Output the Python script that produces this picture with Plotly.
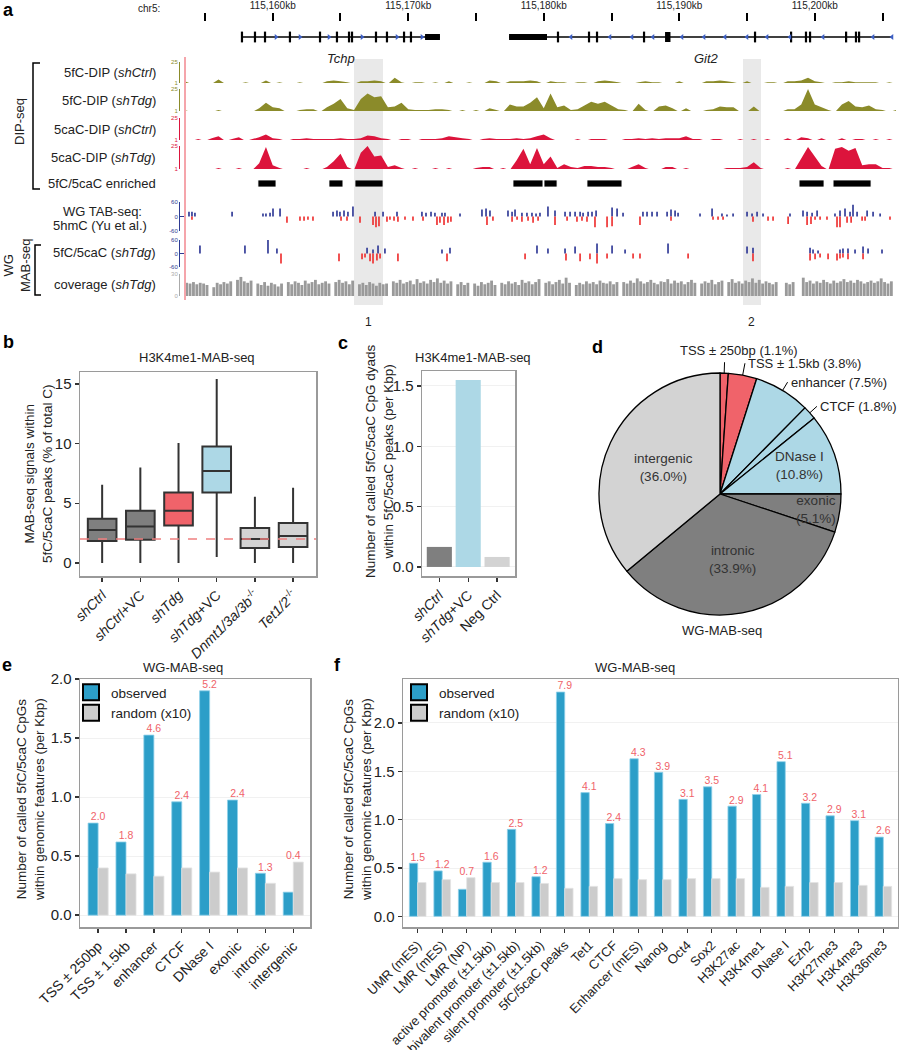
import numpy as np
import plotly.graph_objects as go

W, H = 899, 1050
def X(px): return px / W
def Y(py): return 1 - py / H
def xd(a, b): return [X(a), X(b)]
def yd(top, bottom): return [Y(bottom), Y(top)]

FONT = "Liberation Sans, Arial, sans-serif"
TXT = "#222222"

# ======================= DATA : panel a =======================
chr_ticks = [115155, 115160, 115165, 115170, 115175, 115180, 115185, 115190, 115195, 115200, 115205]
chr_ticktext = ["", "115,160kb", "", "115,170kb", "", "115,180kb", "", "115,190kb", "", "115,200kb", ""]
genome_range = [115153.6, 115206.0]

tchp_span = [115157.73, 115172.34]
tchp_utr = [115171.24, 115172.34]
tchp_exons = [115157.73, 115158.69, 115159.43, 115161.27, 115163.49, 115164.74, 115165.63,
              115165.85, 115167.62, 115168.43, 115169.69, 115170.20]
tchp_arrows = [115160.24, 115162.01, 115164.15, 115166.59, 115169.17, 115171.01]
git2_span = [115177.44, 115205.77]
git2_utr = [115177.44, 115180.24]
git2_block = [115188.95, 115189.35]
git2_exons = [115181.05, 115183.34, 115183.93, 115187.40, 115195.59, 115198.25, 115199.35,
              115199.65, 115202.31, 115203.04, 115203.27]
git2_arrows = [115182.01, 115184.89, 115186.51, 115188.06, 115190.20, 115191.83, 115193.38,
               115195.00, 115196.48, 115198.17, 115200.61, 115204.30, 115205.70]

highlight_start = [115166.0, 115194.7]
highlight_end = [115168.14, 115196.03]
highlight_names = ["1", "2"]

dip_start, dip_step = 115153.5, 0.5
dip_5fc_ctrl = [3,0,0,0,0,5,0,0,0,2, 0,0,4,0,2,0,0,2,0,0, 0,3,4,3,2,0,3,3,4,3,
                0,7,2,0,2,2,0,2,0,3, 0,0,2,0,0,4,3,0,3,3, 3,4,3,0,3,2,2,0,2,2,
                0,3,4,3,2,0,0,2,3,2, 2,0,0,3,0,0,0,3,3,4, 3,2,0,3,0,0,2,2,0,3,
                3,4,7,3,2,0,2,2,3,2, 2,2,2,0,2,0]
dip_5fc_tdg = [2,0,0,0,0,2,0,0,0,0, 0,4,10,5,4,0,0,2,3,3, 0,5,9,14,4,2,14,20,16,17,
               5,6,10,3,2,2,2,3,3,2, 0,2,0,2,0,4,2,0,8,6, 6,10,16,4,20,5,7,2,3,7,
               11,9,11,7,3,2,0,9,2,0, 6,7,4,0,4,0,0,2,3,6, 5,5,0,0,6,0,0,0,0,3,
               3,8,25,8,5,2,0,8,12,6, 5,7,3,2,0,2]
dip_5cac_ctrl = [0,0,2,0,3,5,0,2,4,0, 2,4,7,3,2,0,2,2,3,2, 2,2,2,3,2,2,3,6,5,3,
                 2,0,2,2,0,2,2,2,3,5, 4,3,2,0,2,3,2,2,2,3, 2,3,5,7,3,0,0,0,2,0,
                 2,2,2,0,0,2,2,3,2,3, 2,3,3,3,5,2,2,0,2,2, 0,0,2,0,2,0,2,0,0,3,
                 0,4,3,0,3,0,0,3,0,2, 2,0,2,0,2,0]
dip_5cac_tdg = [0,0,0,0,0,2,0,0,2,0, 0,7,24,5,2,0,0,0,2,0, 0,3,9,17,3,0,18,25,14,15,
                3,5,2,0,2,0,0,2,0,2, 0,0,0,2,3,3,0,2,0,10, 22,6,23,6,14,2,6,3,2,4,
                4,3,3,2,0,0,3,6,2,0, 0,3,3,0,2,0,0,0,0,0, 2,2,2,3,8,2,0,0,0,2,
                0,12,24,14,4,0,22,24,20,23, 5,6,6,2,2,0]

enriched_start = [115158.91, 115164.15, 115166.07, 115177.73, 115180.02, 115183.19, 115198.84, 115201.35]
enriched_end = [115160.24, 115165.18, 115168.14, 115179.94, 115180.98, 115185.77, 115200.68, 115204.15]

tab_pos_plus = [115153.82,115154.04,115154.26,115157.00,115159.28,115159.50,115159.80,115160.02,115160.54,
    115164.45,115164.74,115164.96,115165.26,115165.55,115165.92,115167.55,115168.14,115169.17,115171.01,
    115171.31,115171.68,115171.97,115172.49,115172.71,115173.82,115175.44,115175.74,115176.03,115177.36,
    115177.66,115177.88,115178.39,115178.76,115179.13,115179.43,115179.72,115180.31,115180.83,115181.57,
    115181.94,115182.31,115182.68,115182.90,115183.27,115183.56,115183.86,115185.04,115185.41,115185.85,
    115187.32,115187.62,115187.99,115188.36,115189.10,115189.39,115189.69,115189.91,115191.53,115192.42,
    115193.15,115193.52,115193.97,115195.00,115195.37,115195.74,115196.18,115198.17,115199.13,115199.43,
    115199.80,115200.17,115201.49,115201.86,115202.23,115202.60,115202.82,115203.12,115203.86,115204.30,
    115204.82]
tab_val_plus = [20,20,16,20,12,12,16,33,33, 20,25,20,25,20,41,20,20,20,20, 16,20,16,16,16,12,29,33,25,25,
    20,29,16,16,16,12,16,41,25,20, 20,20,20,16,20,20,25,37,33,16, 20,20,20,20,20,29,25,16,12,33,
    12,8,12,20,12,20,12,12,25,20, 16,25,12,25,33,20,49,20,25,20, 12]
tab_pos_minus = [115154.04,115161.05,115162.01,115162.31,115162.60,115162.97,115165.04,115165.48,115166.44,
    115167.40,115167.62,115167.84,115168.43,115168.65,115168.95,115169.24,115169.76,115170.35,115171.09,
    115172.12,115172.34,115172.64,115172.93,115173.15,115175.81,115176.25,115177.66,115178.03,115178.39,
    115178.84,115179.21,115179.58,115180.83,115181.72,115182.45,115182.82,115183.19,115183.78,115184.67,
    115185.04,115187.10,115189.39,115192.49,115192.86,115193.23,115195.44,115196.55,115196.92,115198.03,
    115199.43,115199.72,115200.02,115200.39,115200.90,115201.64,115201.86,115202.38,115202.68,115203.49,
    115203.71,115205.55]
tab_val_minus = [-13,-26,-18,-18,-13,-18,-18,-18,-26, -35,-44,-40,-22,-13,-18,-22,-13,-18,-18,
    -35,-26,-35,-26,-22,-35,-18,-22,-13,-22, -18,-26,-18,-35,-18,-22,-18,-22,-44,-44,
    -40,-35,-18,-13,-13,-13,-22,-18,-18,-31, -35,-31,-13,-13,-13,-44,-44,-26,-26,-18,
    -18,-13]

mab_pos_plus = [115154.63,115157.95,115159.65,115160.31,115166.96,115167.40,115167.77,115168.28,115172.49,
    115173.08,115179.50,115180.31,115181.57,115182.31,115183.93,115185.04,115186.00,115189.17,115195.00,
    115195.44,115199.65,115199.87,115200.24,115201.86,115202.08,115202.45,115202.97,115203.56,115203.93,
    115204.96]
mab_val_plus = [35,35,60,22,26,18,35,22,18, 26,35,22,22,31,44,35,18,44,31, 26,26,18,13,18,22,22,18,31,22, 18]
mab_pos_minus = [115160.61,115164.89,115166.59,115166.81,115167.18,115167.40,115167.69,115167.92,115169.24,
    115172.86,115178.62,115181.64,115182.68,115183.41,115183.93,115184.67,115186.59,115187.10,115190.65,
    115195.44,115199.65,115200.02,115200.39,115200.98,115201.64,115201.86,115202.08,115202.45,115203.56]
mab_val_minus = [-44,-35,-26,-18,-35,-44,-31,-22,-35, -35,-26,-31,-35,-26,-44,-22,-22,-22,-22,
    -35,-31,-26,-18,-26,-31,-22,-18,-26,-26]

cov_start, cov_step = 115153.65, 0.25
coverage = [18,17,19,16,18,17,15, 0, 12,18,16,19,17,20, 0, 22,26,20,18,21, 0,
    17,15,19,14,18,16,13,17, 0, 19,16,20,18,15,21,17,19,22,16,18,20,17, 0,
    19,22,18,20,16,21, 0, 16,18,15,19,17,14,18,16,17, 0,
    20,18,22,17,19,21,16,23,18,20,17,22,19,24,18,21,17,20, 0, 16,19,15,18, 0,
    17,14,19,16,18,21,15, 0, 18,16,20,17,19,15,22,18,20,16,19,23, 0,
    18,20,16,19,22,17,25,18, 0, 15,18,16,20,17,19,16,21,18,17,20,16,19, 0,
    19,17,21,18,24,20,17,19,22,18,16,20,19,23,17,21,18,20,16,19,22,18, 0,
    17,20,18,22,16,19,21, 0, 19,23,18,20,17,21,19,24,18,22,17,20,18,16,19, 0, 0,
    18,16,19, 0, 0, 25,19,21,17,20,18,22,19,17,21,18,20,23,19,21,18,22,20,17,19,21,18,20,24,19,17,20]

# ======================= DATA : panel b =======================
b_labels = ["<i>shCtrl</i>", "<i>shCtrl</i>+VC", "<i>shTdg</i>", "<i>shTdg</i>+VC",
            "<i>Dnmt1/3a/3b</i><sup>-/-</sup>", "<i>Tet1/2</i><sup>-/-</sup>"]
b_low = [0, 0, 0, 0.5, 0, 0]
b_q1 = [1.84, 1.93, 3.13, 5.9, 1.25, 1.34]
b_med = [2.75, 3.04, 4.36, 7.71, 2.0, 2.26]
b_q3 = [3.69, 4.36, 5.9, 9.75, 2.93, 3.35]
b_high = [6.54, 8.0, 10.05, 15.42, 5.55, 6.3]
b_ref = 2.0

# ======================= DATA : panel c =======================
c_labels = ["<i>shCtrl</i>", "<i>shTdg</i>+VC", "Neg Ctrl"]
c_vals = [0.166, 1.55, 0.083]

# ======================= DATA : panel d =======================
pie_labels = ["TSS ± 250bp", "TSS ± 1.5kb", "enhancer", "CTCF", "DNase I", "exonic", "intronic", "intergenic"]
pie_pct = [1.1, 3.8, 7.5, 1.8, 10.8, 5.1, 33.9, 36.0]

# ======================= DATA : panel e =======================
e_cats = ["TSS ± 250bp", "TSS ± 1.5kb", "enhancer", "CTCF", "DNase I", "exonic", "intronic", "intergenic"]
e_obs = [0.78, 0.62, 1.525, 0.96, 1.90, 0.975, 0.355, 0.195]
e_rand = [0.40, 0.35, 0.33, 0.40, 0.365, 0.40, 0.27, 0.45]
e_ratio = [2.0, 1.8, 4.6, 2.4, 5.2, 2.4, 1.3, 0.4]

# ======================= DATA : panel f =======================
f_cats = ["UMR (mES)", "LMR (mES)", "LMR (NP)", "active promoter (±1.5kb)", "bivalent promoter (±1.5kb)",
          "silent promoter (±1.5kb)", "5fC/5caC peaks", "Tet1", "CTCF", "Enhancer (mES)", "Nanog", "Oct4",
          "Sox2", "H3K27ac", "H3K4me1", "DNase I", "Ezh2", "H3K27me3", "H3K4me3", "H3K36me3"]
f_obs = [0.55, 0.47, 0.28, 0.56, 0.90, 0.41, 2.32, 1.28, 0.96, 1.63, 1.49, 1.21, 1.34, 1.14, 1.26, 1.60,
         1.17, 1.04, 0.99, 0.82]
f_rand = [0.35, 0.38, 0.40, 0.35, 0.35, 0.34, 0.29, 0.31, 0.39, 0.38, 0.38, 0.39, 0.39, 0.39, 0.30, 0.31,
          0.35, 0.35, 0.32, 0.31]
f_ratio = [1.5, 1.2, 0.7, 1.6, 2.5, 1.2, 7.9, 4.1, 2.4, 4.3, 3.9, 3.1, 3.5, 2.9, 4.1, 5.1, 3.2, 2.9, 3.1, 2.6]

# ======================= STYLE =======================
OLIVE = "#8b8b2a"
CRIMSON = "#dc143c"
TAB_BLUE = "#2b3594"
TAB_RED = "#ee2c2c"
AX_BLUE = "#2e3a92"
COV_GRAY = "#9a9a9a"
DKGRAY = "#7f7f7f"
LTBLUE = "#add8e6"
SALMON = "#f0636a"
LTGRAY = "#d3d3d3"
OBS = "#2c9ec8"
RND = "#cccccc"
BORDER = "#9a9a9a"

fig = go.Figure()
ann = []
shapes = []

def A(text, px, py, size=13, xanchor="center", yanchor="middle", angle=0, color=TXT, **kw):
    ann.append(dict(text=text, x=X(px), y=Y(py), xref="paper", yref="paper", showarrow=False,
                    xanchor=xanchor, yanchor=yanchor, textangle=angle,
                    font=dict(size=size, color=color, family=FONT), **kw))

# ---------------- panel a: gene model ----------------
def segs(xs, y0, y1):
    xx, yy = [], []
    for v in xs:
        xx += [v, v, None]
        yy += [y0, y1, None]
    return xx, yy

fig.add_trace(go.Scatter(x=[tchp_span[0], tchp_span[1], None, git2_span[0], git2_span[1]],
                         y=[0, 0, None, 0, 0], mode="lines", line=dict(color="black", width=1.5),
                         xaxis="x", yaxis="y", showlegend=False))
fig.add_trace(go.Scatter(x=[tchp_utr[0], tchp_utr[1], None, git2_utr[0], git2_utr[1]],
                         y=[0, 0, None, 0, 0], mode="lines", line=dict(color="black", width=6),
                         xaxis="x", yaxis="y", showlegend=False))
fig.add_trace(go.Scatter(x=git2_block, y=[0, 0], mode="lines", line=dict(color="black", width=10),
                         xaxis="x", yaxis="y", showlegend=False))
ex, ey = segs(tchp_exons + git2_exons, -0.36, 0.36)
fig.add_trace(go.Scatter(x=ex, y=ey, mode="lines", line=dict(color="black", width=2.2),
                         xaxis="x", yaxis="y", showlegend=False))
fig.add_trace(go.Scatter(x=tchp_arrows, y=[0] * len(tchp_arrows), mode="markers",
                         marker=dict(symbol="triangle-right", size=5, color="#3d5fc4"),
                         xaxis="x", yaxis="y", showlegend=False))
fig.add_trace(go.Scatter(x=git2_arrows, y=[0] * len(git2_arrows), mode="markers",
                         marker=dict(symbol="triangle-left", size=5, color="#3d5fc4"),
                         xaxis="x", yaxis="y", showlegend=False))

# ---------------- panel a: DIP tracks ----------------
dip_pos = dip_start + dip_step * np.arange(len(dip_5fc_ctrl))
for vals, col, ax in [(dip_5fc_ctrl, OLIVE, "y2"), (dip_5fc_tdg, OLIVE, "y3"),
                      (dip_5cac_ctrl, CRIMSON, "y4"), (dip_5cac_tdg, CRIMSON, "y5")]:
    fig.add_trace(go.Scatter(x=dip_pos, y=vals, mode="none", fill="tozeroy", fillcolor=col,
                             xaxis="x", yaxis=ax, showlegend=False))

# enriched regions
fig.add_trace(go.Bar(y=[0] * len(enriched_start), base=enriched_start,
                     x=[e - s for s, e in zip(enriched_start, enriched_end)], orientation="h", width=1,
                     marker=dict(color="black", line=dict(color="white", width=0.8)),
                     xaxis="x", yaxis="y6", showlegend=False))

# TAB-seq / MAB-seq bars
for pos, vals, col, ax in [(tab_pos_plus, tab_val_plus, TAB_BLUE, "y7"), (tab_pos_minus, tab_val_minus, TAB_RED, "y7"),
                           (mab_pos_plus, mab_val_plus, TAB_BLUE, "y8"), (mab_pos_minus, mab_val_minus, TAB_RED, "y8")]:
    fig.add_trace(go.Bar(x=pos, y=vals, width=0.12, marker=dict(color=col, line=dict(width=0)),
                         xaxis="x", yaxis=ax, showlegend=False))

cov_pos = cov_start + cov_step * np.arange(len(coverage))
fig.add_trace(go.Bar(x=cov_pos, y=coverage, width=0.21, marker=dict(color=COV_GRAY, line=dict(width=0)),
                     xaxis="x", yaxis="y9", showlegend=False))

# highlight boxes
for s, e, nm in zip(highlight_start, highlight_end, highlight_names):
    shapes.append(dict(type="rect", xref="x", yref="paper", x0=s, x1=e, y0=Y(305), y1=Y(59),
                       fillcolor="#e9e9e9", line=dict(width=0), layer="below"))
    ann.append(dict(text=nm, x=(s + e) / 2, y=Y(313), xref="x", yref="paper", showarrow=False,
                    font=dict(size=12, color=TXT, family=FONT)))

# gene names
ann.append(dict(text="<i>Tchp</i>", x=sum(tchp_span) / 2, y=Y(49), xref="x", yref="paper", showarrow=False,
                font=dict(size=13, color=TXT, family=FONT)))
ann.append(dict(text="<i>Git2</i>", x=sum(git2_span) / 2 + 0.4, y=Y(49), xref="x", yref="paper", showarrow=False,
                font=dict(size=13, color=TXT, family=FONT)))

# pink line and brackets
shapes.append(dict(type="line", xref="paper", yref="paper", x0=X(185), x1=X(185), y0=Y(57), y1=Y(300),
                   line=dict(color="#f5a5ab", width=2)))
shapes.append(dict(type="path", xref="paper", yref="paper",
                   path=f"M {X(40)},{Y(63)} L {X(33)},{Y(63)} L {X(33)},{Y(189)} L {X(40)},{Y(189)}",
                   line=dict(color="black", width=1.5)))
shapes.append(dict(type="path", xref="paper", yref="paper",
                   path=f"M {X(41)},{Y(245)} L {X(35)},{Y(245)} L {X(35)},{Y(295)} L {X(41)},{Y(295)}",
                   line=dict(color="black", width=1.5)))

# track labels
A("chr5:", 162, 8, size=10, xanchor="right")
A("5fC-DIP (<i>shCtrl</i>)", 158, 72, xanchor="right")
A("5fC-DIP (<i>shTdg</i>)", 158, 100, xanchor="right")
A("5caC-DIP (<i>shCtrl</i>)", 158, 129, xanchor="right")
A("5caC-DIP (<i>shTdg</i>)", 158, 158, xanchor="right")
A("5fC/5caC enriched", 158, 184, xanchor="right")
A("WG TAB-seq:", 102, 211)
A("5hmC (Yu et al.)", 100, 225)
A("5fC/5caC (<i>shTdg</i>)", 158, 253, xanchor="right")
A("coverage (<i>shTdg</i>)", 158, 284, xanchor="right")
A("DIP-seq", 20, 122, angle=-90)
A("WG<br>MAB-seq", 17, 266, angle=-90)

# ---------------- panel b ----------------
for i in range(len(b_labels)):
    col = [DKGRAY, DKGRAY, SALMON, LTBLUE, LTGRAY, LTGRAY][i]
    fig.add_trace(go.Box(x=[i], q1=[b_q1[i]], median=[b_med[i]], q3=[b_q3[i]], lowerfence=[b_low[i]],
                         upperfence=[b_high[i]], width=0.75, whiskerwidth=0, fillcolor=col,
                         line=dict(color="#333333", width=2), boxpoints=False,
                         xaxis="x2", yaxis="y10", showlegend=False))
shapes.append(dict(type="line", xref="x2 domain", yref="y10", x0=0, x1=1, y0=b_ref, y1=b_ref,
                   line=dict(color="#f08080", width=1.6, dash="dash")))

# ---------------- panel c ----------------
fig.add_trace(go.Bar(x=list(range(len(c_vals))), y=c_vals, width=0.87,
                     marker=dict(color=[DKGRAY, LTBLUE, LTGRAY], line=dict(width=0)),
                     xaxis="x3", yaxis="y11", showlegend=False))

# ---------------- panel d ----------------
PCX, PCY, PR = 720, 494, 121
fig.add_trace(go.Pie(values=pie_pct, labels=pie_labels, sort=False, direction="clockwise", rotation=0,
                     marker=dict(colors=[SALMON, SALMON, LTBLUE, LTBLUE, LTBLUE, DKGRAY, DKGRAY, LTGRAY],
                                 line=dict(color="black", width=1.3)),
                     textinfo="none", hoverinfo="skip", showlegend=False,
                     domain=dict(x=xd(PCX - PR, PCX + PR), y=yd(PCY - PR, PCY + PR))))
pct = np.array(pie_pct)
cum = np.concatenate([[0], np.cumsum(pct)[:-1]])
theta = (cum + pct / 2) / pct.sum() * 2 * np.pi
label_r = [1.09, 1.1, 1.08, 1.08, 0.7, 0.8, 0.55, 0.52]
outside = [True, True, True, True, False, False, False, False]
for i, (lab, p) in enumerate(zip(pie_labels, pie_pct)):
    r = label_r[i]
    xx, yy = r * np.sin(theta[i]), r * np.cos(theta[i])
    if outside[i]:
        fig.add_trace(go.Scatter(x=[np.sin(theta[i]), xx], y=[np.cos(theta[i]), yy], mode="lines",
                                 line=dict(color="black", width=1), xaxis="x4", yaxis="y12",
                                 showlegend=False, hoverinfo="skip"))
        if i == 0:
            ann.append(dict(text=f"{lab} ({p:.1f}%)", x=xx, y=yy, xref="x4", yref="y12", showarrow=False,
                            xanchor="center", yanchor="bottom", xshift=14, yshift=2,
                            font=dict(size=13, color=TXT, family=FONT)))
        else:
            ann.append(dict(text=f"{lab} ({p:.1f}%)", x=xx, y=yy, xref="x4", yref="y12", showarrow=False,
                            xanchor="left", yanchor="middle", xshift=1,
                            font=dict(size=13, color=TXT, family=FONT)))
    else:
        ann.append(dict(text=f"{lab}<br>({p:.1f}%)", x=xx, y=yy, xref="x4", yref="y12", showarrow=False,
                        xanchor="center", yanchor="middle",
                        font=dict(size=13.5, color="#333333", family=FONT)))
A("WG-MAB-seq", 722, 630, size=13)

# ---------------- panel e ----------------
ex_ = np.arange(len(e_cats))
fig.add_trace(go.Bar(x=ex_, y=e_obs, width=0.36, offset=-0.36,
                     marker=dict(color=OBS, line=dict(color="#8fd0ea", width=0.8)),
                     xaxis="x5", yaxis="y13", showlegend=False))
fig.add_trace(go.Bar(x=ex_, y=e_rand, width=0.36, offset=0,
                     marker=dict(color=RND, line=dict(color="#e2e2e2", width=0.8)),
                     xaxis="x5", yaxis="y13", showlegend=False))
fig.add_trace(go.Scatter(x=ex_, y=np.maximum(e_obs, e_rand), mode="text",
                         text=[f"{v:.1f}" for v in e_ratio], textposition="top center",
                         textfont=dict(size=10.5, color=SALMON, family=FONT),
                         xaxis="x5", yaxis="y13", showlegend=False, hoverinfo="skip"))

# ---------------- panel f ----------------
fx_ = np.arange(len(f_cats))
fig.add_trace(go.Bar(x=fx_, y=f_obs, width=0.34, offset=-0.34,
                     marker=dict(color=OBS, line=dict(color="#8fd0ea", width=0.8)),
                     xaxis="x6", yaxis="y14", showlegend=False))
fig.add_trace(go.Bar(x=fx_, y=f_rand, width=0.34, offset=0,
                     marker=dict(color=RND, line=dict(color="#e2e2e2", width=0.8)),
                     xaxis="x6", yaxis="y14", showlegend=False))
fig.add_trace(go.Scatter(x=fx_, y=np.maximum(f_obs, f_rand), mode="text",
                         text=[f"{v:.1f}" for v in f_ratio], textposition="top center",
                         textfont=dict(size=10.5, color=SALMON, family=FONT),
                         xaxis="x6", yaxis="y14", showlegend=False, hoverinfo="skip"))

# legends (e and f)
for lg, xa, ya in [("legend", "x5", "y13"), ("legend2", "x6", "y14")]:
    for nm, col in [("observed", OBS), ("random (x10)", RND)]:
        fig.add_trace(go.Scatter(x=[None], y=[None], mode="markers", name=nm, legend=lg,
                                 marker=dict(symbol="square", size=16, color=col, line=dict(color="black", width=2)),
                                 xaxis=xa, yaxis=ya, showlegend=True))

# titles / axis titles / panel letters
A("H3K4me1-MAB-seq", 197, 358)
A("H3K4me1-MAB-seq", 473, 358)
A("WG-MAB-seq", 183, 667)
A("WG-MAB-seq", 635, 667)
A("MAB-seq signals within<br>5fC/5caC peaks (% of total C)", 39, 474, size=13.5, angle=-90)
A("Number of called 5fC/5caC CpG dyads<br>within 5fC/5caC peaks (per Kbp)", 380, 461, size=13.5, angle=-90)
A("Number of called 5fC/5caC CpGs<br>within genomic features (per Kbp)", 30, 800, size=13.5, angle=-90)
A("Number of called 5fC/5caC CpGs<br>within genomic features (per Kbp)", 357, 800, size=13.5, angle=-90)
for letter, px, py in [("a", 8, 10), ("b", 8, 342), ("c", 343, 343), ("d", 597, 347), ("e", 7, 665), ("f", 337, 665)]:
    A(f"<b>{letter}</b>", px, py, size=18, color="black")

# ======================= LAYOUT =======================
def track_axis(top, bottom, rng, tv, tt, color, visible=True):
    return dict(domain=yd(top, bottom), range=rng, anchor="free", position=X(179), side="left",
                visible=visible, showline=True, linecolor=color, linewidth=1.4, ticks="inside", ticklen=4,
                tickwidth=1.2, tickcolor=color, tickvals=tv, ticktext=tt, automargin=False,
                tickfont=dict(size=6, color=color, family=FONT), showgrid=False, zeroline=False, fixedrange=True)

def panel_x(dom, rng, anchor, tv, tt, size=14):
    return dict(domain=xd(*dom), range=rng, anchor=anchor, showline=True, mirror=True, linecolor=BORDER,
                linewidth=1.5, ticks="outside", ticklen=4, tickwidth=1.4, tickcolor="#333333",
                tickvals=tv, ticktext=tt, tickangle=-45, tickfont=dict(size=size, color=TXT, family=FONT),
                showgrid=False, zeroline=False, automargin=False)

def panel_y(dom, rng, anchor, tv, tt, grid=False):
    return dict(domain=yd(*dom), range=rng, anchor=anchor, showline=True, mirror=True, linecolor=BORDER,
                linewidth=1.5, ticks="outside", ticklen=4, tickwidth=1.4, tickcolor="#333333",
                tickvals=tv, ticktext=tt, tickfont=dict(size=15, color=TXT, family=FONT),
                showgrid=grid, gridcolor="#f1f1f1", gridwidth=1, zeroline=False, automargin=False)

PE = 1.35  # half-extent of the pie overlay axes, in pie radii
layout = dict(
    template="none",
    width=W, height=H, margin=dict(l=0, r=0, t=0, b=0, autoexpand=False),
    paper_bgcolor="white", plot_bgcolor="rgba(0,0,0,0)",
    font=dict(family=FONT, color=TXT), barmode="overlay", hovermode=False,
    xaxis=dict(domain=xd(186, 896.1), range=genome_range, anchor="y", side="top", showline=False,
               ticks="outside", ticklen=8, tickwidth=2, tickcolor="black", tickvals=chr_ticks,
               ticktext=chr_ticktext, tickangle=0, tickfont=dict(size=10, color=TXT, family=FONT),
               showgrid=False, zeroline=False, fixedrange=True, automargin=False),
    yaxis=dict(domain=yd(22, 52), range=[-1, 1], anchor="x", visible=False, fixedrange=True, automargin=False),
    yaxis2=track_axis(62, 83, [1, 25], [1, 25], ["1", "25"], OLIVE),
    yaxis3=track_axis(89, 111, [1, 25], [1, 25], ["1", "25"], OLIVE),
    yaxis4=track_axis(118, 140, [1, 25], [1, 25], ["1", "25"], CRIMSON),
    yaxis5=track_axis(146, 169, [1, 25], [1, 25], ["1", "25"], CRIMSON),
    yaxis6=track_axis(180, 187, [-0.5, 0.5], [], [], "black", visible=False),
    yaxis7=track_axis(202, 231, [-60, 60], [-60, 0, 60], ["-60", "0", "60"], AX_BLUE),
    yaxis8=track_axis(240, 267, [-60, 60], [-60, 0, 60], ["-60", "0", "60"], AX_BLUE),
    yaxis9=track_axis(274, 296, [0, 30], [0, 30], ["0", "30"], "#aaaaaa"),
    xaxis2=panel_x((80, 316), [-0.58, 5.6], "y10", list(range(6)), b_labels),
    yaxis10=panel_y((372, 576), [-1.1, 16.0], "x2", [0, 5, 10, 15], ["0", "5", "10", "15"]),
    xaxis3=panel_x((422, 515), [-0.6, 2.62], "y11", [0, 1, 2], c_labels),
    yaxis11=panel_y((371, 576), [-0.075, 1.624], "x3", [0, 0.5, 1, 1.5], ["0.0", "0.5", "1.0", "1.5"], grid=True),
    xaxis4=dict(domain=xd(PCX - PE * PR, PCX + PE * PR), range=[-PE, PE], anchor="y12", visible=False,
                fixedrange=True, automargin=False),
    yaxis12=dict(domain=yd(PCY - PE * PR, PCY + PE * PR), range=[-PE, PE], anchor="x4", visible=False,
                 fixedrange=True, automargin=False),
    xaxis5=panel_x((80, 310), [-0.65, 7.6], "y13", list(range(len(e_cats))), e_cats),
    yaxis13=panel_y((679, 927), [-0.1, 2.0], "x5", [0, 0.5, 1, 1.5, 2], ["0.0", "0.5", "1.0", "1.5", "2.0"], grid=True),
    xaxis6=panel_x((403, 898), [-0.6, 19.6], "y14", list(range(len(f_cats))), f_cats, size=13),
    yaxis14=panel_y((679, 927), [-0.11, 2.455], "x6", [0, 0.5, 1, 1.5, 2], ["0.0", "0.5", "1.0", "1.5", "2.0"], grid=True),
    legend=dict(x=X(71), y=Y(677), xanchor="left", yanchor="top", bgcolor="rgba(0,0,0,0)",
                font=dict(size=13.5, color=TXT, family=FONT), itemsizing="trace", tracegroupgap=0),
    legend2=dict(x=X(399), y=Y(677), xanchor="left", yanchor="top", bgcolor="rgba(0,0,0,0)",
                 font=dict(size=13.5, color=TXT, family=FONT), itemsizing="trace", tracegroupgap=0),
    annotations=ann, shapes=shapes,
)
fig.update_layout(**layout)
fig.write_html("out.html", config={"displayModeBar": False, "staticPlot": True},
               post_script="document.body.style.margin='0px';document.body.style.overflow='hidden';")
